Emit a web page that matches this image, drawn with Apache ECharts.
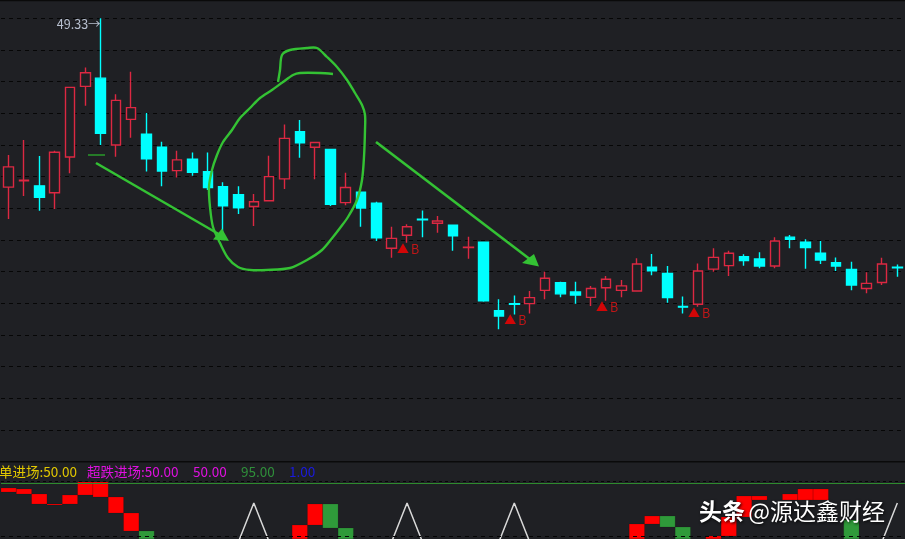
<!DOCTYPE html>
<html><head><meta charset="utf-8">
<script src="https://cdn.jsdelivr.net/npm/echarts@6/dist/echarts.min.js"></script>
<style>html,body{margin:0;padding:0;background:#1f2024;overflow:hidden}#c{width:905px;height:539px}</style>
</head><body><div id="c"></div><script>
// ---- data ----
const opens  = [44.00,44.20,44.04,43.82,44.95,47.18,47.44,45.33,46.14,45.67,45.26,44.52,44.88,44.49,44.01,43.76,43.39,43.57,44.26,45.75,45.26,45.19,43.51,43.84,43.49,42.07,42.48,42.99,42.86,42.80,42.09,42.26,40.10,40.32,40.32,40.74,40.98,40.69,40.52,40.82,40.74,40.72,41.47,41.27,40.23,40.30,41.41,41.52,41.80,41.73,41.51,42.42,42.26,41.91,41.61,41.40,40.80,40.99,41.47];
const closes = [44.64,44.22,43.68,45.10,47.15,47.61,45.70,46.74,46.51,44.89,44.51,44.86,44.47,43.99,43.41,43.35,43.54,44.33,45.54,45.40,45.41,43.46,43.99,43.34,42.40,42.38,42.75,42.97,42.93,42.46,42.10,40.41,39.93,40.30,40.51,41.12,40.63,40.59,40.80,41.09,40.88,41.57,41.36,40.51,40.21,41.35,41.78,41.91,41.68,41.51,42.30,42.35,42.09,41.70,41.51,40.91,40.96,41.57,41.45];
const lows   = [42.99,43.72,43.25,43.31,44.44,46.57,45.33,44.96,45.56,44.49,44.03,44.30,44.36,43.91,42.58,43.15,42.77,43.57,43.94,44.93,44.25,43.40,43.43,42.75,42.30,41.77,42.24,42.42,42.56,41.99,41.74,40.38,39.51,39.98,40.01,40.46,40.52,40.32,40.25,40.41,40.52,40.72,41.22,40.35,40.01,40.22,41.33,41.19,41.52,41.44,41.44,42.07,41.42,41.57,41.35,40.74,40.65,40.91,41.17];
const highs  = [45.01,45.49,44.98,45.15,47.15,47.78,49.33,46.93,47.64,46.34,45.43,45.15,45.09,45.09,44.15,44.03,43.78,44.99,45.98,46.12,45.41,45.19,44.45,43.84,43.54,42.75,42.83,43.26,43.09,42.80,42.43,42.26,40.46,40.58,40.72,41.33,41.01,41.01,40.88,41.19,41.07,41.75,41.89,41.51,40.55,41.59,42.07,41.99,41.88,41.94,42.42,42.49,42.35,42.30,41.78,41.64,41.31,41.77,41.56];
const categories = Array.from({length: opens.length}, (_, i) => String(i + 1));
const buySignalIdx = [26, 33, 39, 45];
const peakLabel = '49.33';
const peakIdx = 6;
// indicator panel
const blkIdx  = [0,1,2,3,4,5,6,7,8,9,19,20,21,22,41,42,43,44,46,47,48,49,51,52,53,55];
const blkLow  = [82.8,79.5,62.8,62.0,62.8,77.8,74.5,47.8,17.8,0,0,27.8,22.8,0,0,29.5,24.5,0,0,9.5,41.2,69.5,69.5,69.5,69.5,0];
const blkHigh = [89.5,87.8,79.5,63.0,77.8,99.5,99.5,74.5,47.8,17.8,27.8,62.8,62.8,22.8,29.5,42.8,42.8,24.5,9.5,41.2,76.2,76.2,79.5,87.8,87.8,36.2];
const blkUp   = [1,1,1,1,1,1,1,1,1,0,1,1,0,0,1,1,0,0,1,1,1,1,1,1,1,0];
const spikeLine = [0,0,0,0,0,0,0,0,0,0,0,0,0,0,0,0,64.5,0,0,0,0,0,0,0,0,0,64.5,0,0,0,0,0,0,64.5,0,0,0,0,0,0,0,0,0,0,0,0,0,0,0,0,0,0,0,0,0,0,0,0,64.5];
const legendItems = [['单进场:50.00','#e2c800',-1],['超跌进场:50.00','#e010e0',87],['50.00','#e010e0',193],['95.00','#2f8f3a',241],['1.00','#1a1ae0',289]];

const kdata = opens.map((o, i) => [o, closes[i], lows[i], highs[i]]);
const blocks = blkIdx.map((x, i) => [x, blkLow[i], blkHigh[i], blkUp[i]]);
const FONT = '"Noto Sans CJK SC","Noto Sans",sans-serif';
const GREEN = '#34c234';

const circlePts = [[333,74],[320,73],[300,73],[293,75],[283,82],[272,90],[260,98],[250,108],[240,118],[232,130],[223,142],[217,155],[212,170],[209,187],[210,207],[213,227],[220,243],[228,258],[238,267],[250,270],[267,270],[290,268],[307,260],[322,250],[333,237],[340,228],[348,217],[357,200],[362,180],[364,157],[365,130],[365,115],[362,105],[355,93],[347,80],[337,67],[327,57],[317,48],[307,48],[290,50],[282,55],[280,70],[278,82]];

const chart = echarts.init(document.getElementById('c'));
const option = {
  backgroundColor: '#1f2024',
  animation: false,
  grid: [
    {left: 1, top: 18.3, width: 909.2, height: 443.4},
    {left: 1, top: 481.7, width: 909.2, height: 57}
  ],
  xAxis: [
    {type: 'category', data: categories, gridIndex: 0, show: false},
    {type: 'category', data: categories, gridIndex: 1, show: false}
  ],
  yAxis: [
    {gridIndex: 0, min: 35.33, max: 49.33, show: false},
    {gridIndex: 0, min: 0, max: 14, interval: 1, axisLine: {show: false}, axisTick: {show: false}, axisLabel: {show: false},
     splitLine: {show: true, lineStyle: {color: '#060606', width: 1, type: [4, 4]}}},
    {gridIndex: 1, min: 5, max: 100, show: false}
  ],
  series: [
    {
      type: 'candlestick', xAxisIndex: 0, yAxisIndex: 0, data: kdata, barWidth: 10,
      itemStyle: {color: '#1f2024', color0: '#00ffff', borderColor: '#dc2842', borderColor0: '#00ffff', borderWidth: 1.4},
      markPoint: {
        symbol: 'circle', symbolSize: 0,
        data: [{coord: [categories[peakIdx], highs[peakIdx]]}],
        label: {show: true, position: 'left', distance: 0, offset: [0, 6], formatter: peakLabel + '→', color: '#b8c0d0', fontSize: 12.5, fontFamily: FONT}
      }
    },
    {
      type: 'scatter', xAxisIndex: 0, yAxisIndex: 0, symbolSize: 0,
      data: buySignalIdx.map(i => [categories[i], lows[i]]),
      label: {show: true, position: 'bottom', distance: 0, offset: [1, 0], formatter: '{t|▲}{b|B}',
        rich: {t: {color: '#ff0000', fontSize: 12, fontFamily: FONT}, b: {color: '#e81414', fontSize: 12.5, fontFamily: FONT, padding: [0,0,0,2]}}}
    },
    {
      type: 'custom', xAxisIndex: 1, yAxisIndex: 2, data: blocks, clip: true,
      encode: {x: 0, y: [1, 2]},
      renderItem: function (params, api) {
        const x = api.value(0);
        const lo = api.coord([x, api.value(1)]);
        const hi = api.coord([x, api.value(2)]);
        const w = api.size([1, 0])[0];
        return {type: 'rect', shape: {x: lo[0] - w / 2, y: hi[1], width: w, height: Math.max(lo[1] - hi[1], 1)},
          style: {fill: api.value(3) ? '#ff0000' : '#2f9a3a', stroke: 'rgba(0,0,0,0.25)', lineWidth: 0.5}};
      }
    },
    {
      type: 'line', xAxisIndex: 1, yAxisIndex: 2, data: spikeLine, symbol: 'none', clip: true,
      lineStyle: {color: '#d8d8d8', width: 1.5},
      markLine: {
        symbol: 'none', silent: true, label: {show: false},
        data: [
          {yAxis: 100, lineStyle: {color: '#050505', type: [3, 3], width: 1}},
          {yAxis: 97.3, lineStyle: {color: '#2e8b2e', type: 'solid', width: 1}},
          {yAxis: 9.5, lineStyle: {color: '#050505', type: [4, 4], width: 1}}
        ]
      }
    }
  ],
  graphic: [
    {type: 'line', z: 50, shape: {x1: 0, y1: 461.7, x2: 905, y2: 461.7}, style: {stroke: '#0a0a0a', lineWidth: 1.5}},
    {type: 'line', z: 50, shape: {x1: 0, y1: 0.5, x2: 905, y2: 0.5}, style: {stroke: '#0a0a0a', lineWidth: 1.5}},
    {type: 'line', z: 50, shape: {x1: 88, y1: 155, x2: 105, y2: 155}, style: {stroke: '#2a9a2a', lineWidth: 1.5}},
    // hand-drawn annotations
    {type: 'polyline', z: 60, shape: {points: circlePts, smooth: 0.3}, style: {stroke: GREEN, lineWidth: 2.4, fill: null}},
    {type: 'line', z: 60, shape: {x1: 96, y1: 163, x2: 222, y2: 236}, style: {stroke: GREEN, lineWidth: 2.6}},
    {type: 'polygon', z: 60, shape: {points: [[229, 241], [213, 239.5], [222, 228.5]]}, style: {fill: GREEN}},
    {type: 'line', z: 60, shape: {x1: 376, y1: 142, x2: 531, y2: 260}, style: {stroke: GREEN, lineWidth: 2.6}},
    {type: 'polygon', z: 60, shape: {points: [[539, 266.5], [522, 263], [534, 254]]}, style: {fill: GREEN}},
    // legend of indicator panel
    ...legendItems.map(it => ({type: 'text', z: 60, x: it[2], y: 472, style: {text: it[0], fill: it[1], font: '13.5px ' + FONT, verticalAlign: 'middle'}})),
    // watermark
    {type: 'text', z: 80, x: 699, y: 511,
      style: {text: '{a|头条} {b|@源达鑫财经}', verticalAlign: 'middle', fill: '#ffffff',
        rich: {a: {fontSize: 23, fontWeight: 'bold', fontFamily: FONT, fill: '#ffffff'}, b: {fontSize: 23, fontFamily: FONT, fill: '#ffffff'}},
        textShadowColor: 'rgba(0,0,0,0.9)', textShadowBlur: 3, textShadowOffsetX: 1, textShadowOffsetY: 1}}
  ]
};
chart.setOption(option);
</script></body></html>
